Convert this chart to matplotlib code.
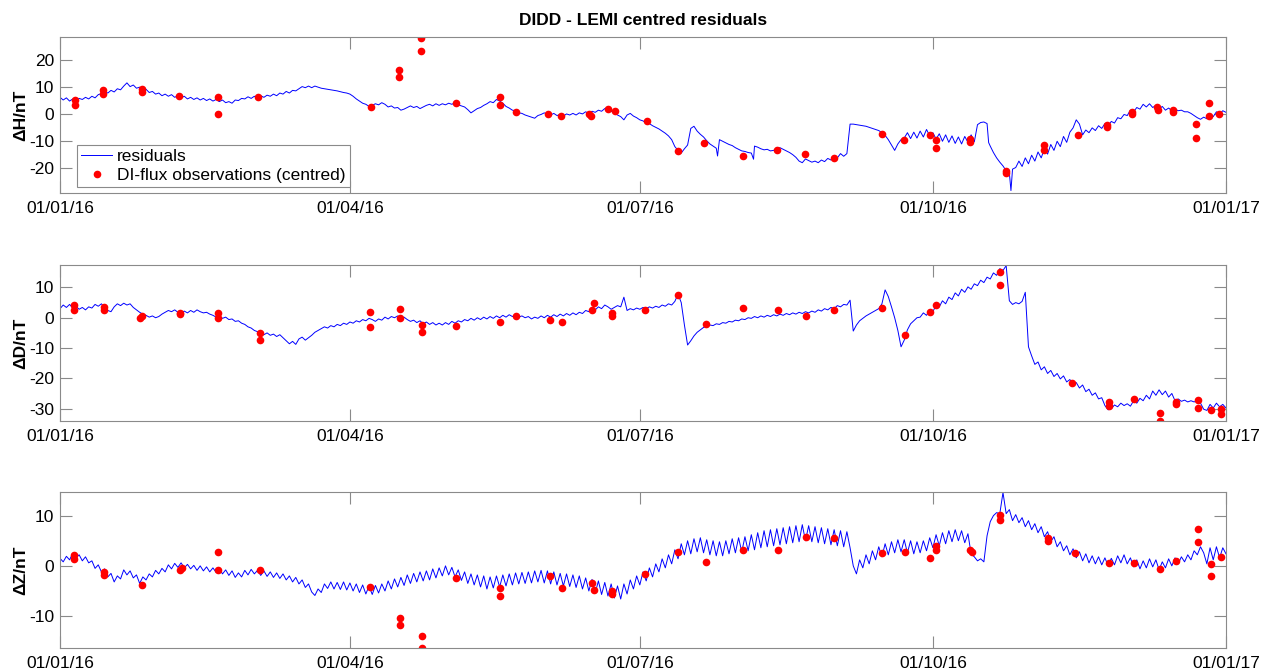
import numpy as np
import matplotlib
matplotlib.use("Agg")
import matplotlib.pyplot as plt
import matplotlib.dates as mdates
from datetime import datetime

plt.rcParams['font.family'] = ['Liberation Sans', 'DejaVu Sans']
plt.rcParams['axes.unicode_minus'] = False

# daily residuals in nT, one value per day from 01/01/16 to 01/01/17
h_val = [6.2, 5.2, 6.0, 4.8, 5.6, 5.0, 5.8, 5.4, 6.2, 5.6,
         6.6, 6.0, 7.2, 7.6, 8.4, 7.8, 8.8, 8.2, 9.4, 9.0,
         10.4, 11.6, 10.2, 10.8, 9.6, 10.0, 8.8, 9.2, 8.0, 8.4,
         7.4, 7.8, 6.8, 7.4, 6.6, 7.2, 6.2, 6.8, 6.0, 6.6,
         5.6, 6.2, 5.4, 6.0, 5.2, 5.8, 5.0, 5.6, 4.8, 5.4,
         4.6, 5.2, 4.2, 4.6, 4.0, 5.2, 5.0, 5.8, 5.6, 6.4,
         5.8, 6.6, 6.0, 6.8, 6.2, 7.0, 6.6, 7.4, 6.8, 7.8,
         7.4, 8.4, 7.8, 8.8, 8.6, 9.4, 10.2, 9.8, 10.4, 9.8,
         10.4, 10.0, 9.6, 9.4, 9.2, 9.0, 8.8, 8.6, 8.3, 8.0,
         7.8, 7.4, 6.6, 5.6, 4.8, 4.0, 3.6, 2.8, 3.2, 3.8,
         3.4, 4.2, 3.6, 2.6, 3.0, 2.2, 2.4, 1.4, 1.8, 2.4,
         3.0, 2.4, 2.8, 2.0, 2.6, 3.2, 3.6, 3.0, 3.8, 3.2,
         3.8, 3.4, 4.0, 3.6, 4.2, 3.4, 3.0, 2.6, 1.6, 0.4,
         1.2, 2.0, 2.4, 3.2, 3.8, 4.6, 4.2, 5.4, 4.8, 4.0,
         2.8, 2.2, 1.4, 1.2, 0.4, 0.2, -0.4, -0.8, -1.2, -1.6,
         -0.6, -0.2, 0.4, 0.0, -0.4, 0.2, -0.6, -0.2, -0.8, 0.0,
         -0.4, 0.2, -0.4, 0.4, 0.0, 0.8, 0.2, 1.0, 0.6, 1.4,
         1.0, 2.0, 2.4, 1.0, 0.4, -0.4, -1.0, -2.2, -0.4, 0.2,
         -0.8, -1.4, -2.2, -2.6, -3.4, -3.6, -4.4, -5.0, -5.6, -6.4,
         -7.2, -8.2, -9.6, -12.2, -13.6, -14.6, -13.0, -11.6, -5.4, -4.6,
         -6.4, -7.6, -8.6, -10.0, -11.2, -12.0, -12.8, -9.6, -10.2, -10.8,
         -11.4, -11.8, -12.6, -13.2, -13.8, -14.0, -14.4, -14.6, -12.0, -12.4,
         -13.0, -13.4, -13.2, -13.8, -13.6, -13.0, -12.6, -13.2, -13.8, -14.4,
         -15.2, -16.2, -17.6, -18.2, -16.8, -17.4, -18.0, -17.6, -18.2, -17.2,
         -17.8, -16.6, -17.2, -15.6, -16.4, -14.8, -15.8, -14.8, -3.8, -3.8,
         -4.0, -4.2, -4.4, -4.6, -5.0, -5.4, -5.8, -6.2, -7.0, -8.0,
         -9.6, -11.6, -13.6, -11.2, -9.6, -9.0, -7.0, -9.2, -6.8, -9.0,
         -6.4, -8.6, -5.8, -8.2, -7.0, -9.4, -7.4, -10.2, -7.8, -10.6,
         -8.2, -11.0, -8.6, -11.2, -8.4, -10.6, -7.8, -10.4, -4.0, -3.2,
         -3.0, -3.6, -12.0, -14.4, -16.4, -18.0, -19.4, -21.2, -22.0, -20.6,
         -20.0, -17.6, -19.6, -16.4, -18.6, -15.4, -17.6, -14.2, -16.4, -13.0,
         -15.0, -11.4, -13.6, -10.2, -12.2, -8.4, -10.6, -6.8, -5.2, -2.2,
         -3.8, -7.8, -6.0, -7.0, -5.2, -6.2, -4.4, -5.4, -3.6, -4.4,
         -2.8, -3.4, -1.4, -1.8, -0.2, -0.6, 1.4, 0.8, 2.4, 1.8,
         3.6, 2.6, 3.8, 2.4, 3.2, 1.8, 2.8, 1.4, 2.2, 1.2,
         1.8, 1.2, 1.4, 0.8, 0.8, 0.2, -0.6, -1.4, -2.0, -1.2,
         -1.8, -0.2, -1.0, 0.8, 0.0, 1.2, 0.6]
# short spikes between daily samples
h_spike_day = [206.4, 217.7, 291.5, 298.5]
h_spike_val = [-15.7, -16.9, -10.7, -28.6]

d_val = [3.0, 4.2, 3.4, 4.4, 3.2, 3.8, 2.8, 3.4, 2.6, 3.6,
         3.2, 4.4, 3.8, 4.6, 3.4, 2.4, 2.0, 3.6, 4.6, 4.0,
         4.8, 4.2, 4.6, 3.4, 2.6, 1.8, 1.2, 0.8, 0.2, 0.6,
         0.0, 0.4, 1.2, 1.8, 2.4, 2.0, 2.6, 1.8, 1.4, 2.2,
         1.6, 2.4, 1.8, 2.6, 2.0, 1.6, 1.8, 1.2, 0.8, 0.2,
         0.6, -0.2, 0.2, -0.6, -0.4, -1.2, -1.0, -1.8, -2.2, -3.0,
         -3.4, -4.2, -4.6, -5.2, -5.6, -5.0, -5.8, -5.4, -6.2, -5.6,
         -6.6, -7.6, -8.6, -7.8, -8.8, -7.0, -6.4, -7.4, -6.6, -5.8,
         -4.8, -4.2, -3.6, -3.0, -3.4, -2.6, -3.0, -2.2, -2.6, -1.8,
         -2.2, -1.4, -1.8, -1.0, -1.4, -0.6, -1.0, -0.2, -0.6, -1.2,
         -0.4, -0.8, 0.2, -0.4, 0.4, 0.0, 0.6, -0.2, 0.2, -0.6,
         -1.2, -0.8, -1.6, -1.0, -2.0, -1.4, -2.2, -1.6, -2.4, -1.8,
         -2.4, -1.6, -2.2, -1.2, -1.8, -1.0, -1.4, -0.6, -1.0, -0.2,
         -0.8, 0.0, -0.6, 0.2, -0.4, 0.4, -0.2, 0.6, 0.0, 0.8,
         0.2, 1.0, 0.4, 0.8, 0.2, 0.6, 0.0, 0.4, -0.4, 0.2,
         -0.2, 0.6, 0.0, 0.8, 0.2, 1.0, 0.4, 1.2, 0.6, 1.4,
         0.8, 1.6, 1.0, 1.8, 1.4, 2.4, 2.0, 3.0, 2.6, 3.6,
         3.0, 4.2, 3.6, 2.8, 3.4, 4.0, 3.6, 6.8, 2.4, 3.0,
         2.6, 3.2, 2.8, 3.4, 3.0, 3.6, 3.2, 3.8, 3.4, 4.2,
         3.8, 4.6, 4.2, 5.4, 7.8, 5.0, -2.4, -9.0, -7.6, -6.0,
         -4.8, -4.0, -3.2, -2.8, -2.4, -2.6, -2.0, -2.2, -1.6, -1.8,
         -1.2, -1.4, -0.8, -1.0, -0.4, -0.6, 0.0, -0.2, 0.4, 0.0,
         0.6, 0.2, 0.8, 0.4, 1.0, 0.6, 1.2, 0.8, 1.4, 1.0,
         1.6, 1.2, 1.8, 1.4, 2.0, 1.6, 2.2, 1.8, 2.6, 2.2,
         3.0, 2.6, 3.4, 3.0, 4.0, 3.6, 4.4, 4.2, 5.8, -4.4,
         -2.4, -1.0, -0.2, 0.6, 1.2, 1.8, 2.4, 3.0, 4.6, 9.2,
         7.0, 3.6, 0.0, -4.2, -9.6, -7.4, -4.0, -2.0, -1.0, 0.0,
         0.2, 1.6, 0.8, 2.6, 2.0, 4.2, 3.6, 5.6, 4.6, 6.8,
         6.0, 8.2, 7.2, 9.4, 8.4, 10.2, 9.4, 11.2, 10.6, 12.4,
         11.6, 13.4, 12.8, 14.8, 14.0, 16.2, 15.6, 17.2, 5.6, 4.4,
         5.0, 4.6, 5.4, 8.4, -9.6, -12.6, -15.4, -14.6, -17.2, -16.2,
         -18.4, -17.4, -19.4, -18.4, -20.2, -19.2, -21.2, -20.4, -22.4, -21.4,
         -23.2, -22.2, -24.4, -23.6, -25.6, -24.8, -26.8, -26.4, -29.0, -30.4,
         -30.0, -28.8, -29.4, -28.2, -29.0, -28.4, -29.2, -27.4, -28.2, -26.6,
         -27.4, -25.6, -26.8, -24.2, -25.6, -23.8, -25.4, -24.2, -26.2, -25.0,
         -27.4, -26.8, -27.6, -27.2, -27.8, -27.4, -27.8, -27.4, -28.2, -30.2,
         -30.6, -28.6, -29.8, -28.2, -29.4, -28.6, -29.8]

z_val = [1.5, 0.8, 1.9, 1.2, 2.5, 1.6, 2.2, 1.0, 1.8, 0.6,
         1.0, -0.5, 0.2, -1.2, -0.6, -2.2, -1.5, -3.2, -2.0, -2.6,
         -0.8, -1.8, -1.0, -2.4, -1.8, -3.5, -2.2, -2.8, -1.6, -2.2,
         -0.9, -1.6, -0.5, -1.2, 0.2, -0.6, 0.5, -0.3, 0.6, -0.4,
         0.3, -0.6, 0.1, -0.9, 0.0, -1.0, -0.2, -1.2, -0.4, -1.3,
         -0.5, -1.6, -0.8, -1.9, -1.0, -2.3, -1.4, -2.2, -0.9, -1.8,
         -0.7, -1.6, -0.9, -1.9, -1.0, -2.1, -1.2, -2.3, -1.4, -2.5,
         -1.6, -2.8, -2.0, -3.2, -2.3, -3.6, -2.8, -4.3, -3.6, -5.2,
         -5.9, -4.6, -5.3, -3.6, -4.5, -3.2, -4.6, -3.3, -4.7, -3.2,
         -4.8, -3.4, -5.0, -3.6, -5.3, -3.8, -5.6, -4.0, -5.7, -3.9,
         -5.4, -3.6, -5.0, -3.0, -4.6, -2.6, -4.2, -2.3, -3.9, -1.8,
         -3.5, -1.5, -3.2, -1.2, -3.0, -1.0, -2.8, -0.6, -2.4, -0.4,
         -2.0, 0.0, -1.8, -0.3, -2.2, -0.8, -2.9, -1.2, -3.5, -1.6,
         -3.8, -1.8, -4.2, -2.0, -4.6, -2.2, -4.4, -2.0, -4.2, -1.8,
         -4.0, -1.6, -3.8, -1.4, -3.6, -1.3, -3.5, -1.2, -3.4, -1.0,
         -3.2, -0.9, -3.4, -1.0, -3.6, -1.2, -3.8, -1.5, -4.0, -1.6,
         -4.1, -1.8, -4.3, -2.0, -4.6, -2.4, -5.0, -2.7, -5.4, -3.0,
         -5.7, -3.3, -6.0, -3.6, -6.4, -4.0, -6.6, -3.6, -5.6, -2.8,
         -4.6, -2.0, -3.8, -1.2, -3.0, -0.4, -2.2, 0.4, -1.2, 1.4,
         -0.4, 2.2, 0.4, 3.2, 1.4, 4.4, 2.2, 5.0, 2.4, 5.4,
         2.8, 5.6, 2.6, 5.2, 2.2, 5.0, 2.0, 4.8, 2.0, 5.0,
         2.4, 5.4, 2.6, 5.6, 2.8, 5.8, 3.0, 6.2, 3.2, 6.6,
         3.6, 7.0, 3.8, 7.2, 4.0, 7.4, 4.2, 7.6, 4.4, 7.8,
         4.6, 8.0, 4.8, 8.2, 5.0, 8.0, 4.8, 7.8, 4.6, 7.6,
         4.4, 7.4, 4.2, 7.2, 4.0, 7.0, 3.8, 6.8, 3.6, 0.0,
         -1.6, 1.2, -0.4, 2.2, 0.4, 3.0, 1.2, 3.8, 1.8, 4.4,
         2.2, 4.8, 2.6, 5.2, 2.8, 5.2, 2.6, 5.0, 2.4, 4.8,
         2.6, 5.0, 3.0, 5.6, 3.6, 6.2, 4.0, 6.6, 4.4, 7.0,
         4.8, 7.2, 5.0, 7.0, 4.6, 6.4, 2.4, 1.8, 1.0, 1.4,
         0.8, 6.0, 8.8, 10.0, 10.6, 10.4, 14.6, 10.4, 11.2, 9.0,
         10.2, 8.6, 9.6, 7.8, 9.0, 7.2, 8.4, 6.6, 7.8, 5.8,
         6.8, 4.8, 5.8, 3.8, 4.8, 3.0, 4.0, 2.2, 3.4, 1.6,
         2.8, 1.0, 2.4, 0.6, 2.0, 0.4, 1.8, 0.2, 1.6, 0.0,
         1.5, 0.2, 2.0, 0.6, 2.2, 0.4, 1.6, -0.2, 1.2, -0.6,
         1.0, -0.4, 1.4, -0.2, 1.2, -0.8, 0.8, -0.4, 1.4, 0.0,
         1.6, 0.4, 1.8, 0.8, 2.2, 1.2, 3.0, 2.2, 3.8, 2.6,
         0.4, 3.6, 1.2, 3.8, 1.6, 3.6, 2.4]

# DI-flux observations (centred), day of year and value in nT
h_obs_day = [4.7, 4.7, 13.5, 13.5, 25.7, 25.7, 37.5, 49.5, 49.5, 62.2, 97.5, 106.4, 106.4, 113.3,
             113.3, 124.3, 138.1, 138.1, 143.1, 153.1, 157.3, 166.1, 166.7, 172, 174.1, 184.1,
             194.1, 202.2, 214.4, 225.2, 233.9, 243, 257.9, 265, 273, 275, 275, 285.8, 285.8,
             296.8, 297.1, 308.8, 308.8, 319.7, 328.7, 328.7, 336.5, 336.5, 344.5, 344.8, 349.5,
             349.5, 356.7, 356.7, 360.6, 360.6, 363.9]
h_obs_val = [5.1, 3.5, 8.8, 7.5, 9.3, 8.3, 6.8, 6.5, 0.1, 6.5, 2.5, 16.4, 13.7, 28.4,
             23.6, 4.1, 6.3, 3.2, 0.9, -0.2, -0.9, 0, -0.6, 2, 1, -2.8,
             -13.7, -10.7, -15.7, -13.6, -14.8, -16.3, -7.5, -9.6, -7.8, -9.8, -12.6, -9.3, -10.5,
             -21.2, -22.1, -11.6, -13.6, -8, -4, -4.8, 0.9, 0, 2.6, 1.4, 1.6,
             0.7, -3.8, -9, 4.1, -0.9, -0.2]

d_obs_day = [4.4, 4.4, 13.8, 13.8, 25.7, 25.1, 37.7, 37.7, 49.6, 49.6, 62.8, 62.8, 97.3, 97.3,
             106.7, 106.7, 113.6, 113.6, 124.3, 138.1, 143.1, 153.8, 157.6, 167, 167.6, 173.3,
             173.3, 183.6, 194, 202.8, 214.4, 225.4, 234.2, 242.9, 258, 265.2, 273.1, 275, 295,
             295, 317.6, 329.2, 329.2, 337.1, 345.3, 345.3, 350.3, 350.3, 357.2, 357.2, 361.3,
             364.4, 364.4]
d_obs_val = [4.2, 2.5, 3.5, 2.5, 0.6, -0.1, 1.6, 1.2, 1.6, -0.1, -5, -7.4, 1.9, -3.1,
             2.9, -0.1, -2.4, -4.7, -2.7, -1.4, 0.6, -0.8, -1.4, 2.5, 4.9, 1.6,
             0.6, 2.5, 7.5, -2.1, 3.2, 2.5, 0.6, 2.5, 3.2, -5.7, 1.9, 4.2, 15.1,
             10.8, -21.6, -27.7, -29.1, -26.8, -31.4, -34, -27.7, -28.5, -27.1, -29.7, -30.4,
             -30.1, -31.8]

z_obs_day = [4.4, 4.4, 13.8, 13.8, 25.7, 38.3, 37.7, 49.6, 49.6, 62.8, 97.3, 106.7, 106.7, 113.6,
             113.6, 124.3, 138.1, 138.1, 153.8, 157.6, 167, 167.6, 173.3, 173.3, 183.6, 194,
             202.8, 214.4, 225.4, 234.2, 242.9, 258, 265.2, 273.1, 275, 275, 285.6, 286.2, 295,
             295, 310.1, 310.1, 318.6, 329.2, 337.1, 345.3, 350.3, 357.2, 357.2, 361.3, 361.3,
             364.4]
z_obs_val = [2.2, 1.4, -1.2, -1.8, -3.8, -0.4, -0.8, 2.8, -0.8, -0.8, -4.2, -10.4, -11.8, -14,
             -16.4, -2.4, -4.4, -6, -2, -4.4, -3.4, -4.8, -5, -5.6, -1.6, 2.8,
             0.8, 3.2, 3.2, 5.8, 5.6, 2.6, 2.8, 1.6, 4, 3.2, 3.2, 2.8, 10.2,
             9.2, 5.6, 5, 2.6, 0.5, 0.5, -0.7, 0.9, 7.4, 4.7, 0.3, -2.1,
             1.7]

# merge the H spikes into the daily series
h_day = np.concatenate([np.arange(len(h_val)), h_spike_day])
h_all = np.concatenate([h_val, h_spike_val])
order = np.argsort(h_day)
h_day, h_all = h_day[order], h_all[order]

panels = [
    ("\u0394H/nT", h_day, h_all, h_obs_day, h_obs_val, (-29.5, 28.6), [-20, -10, 0, 10, 20]),
    ("\u0394D/nT", np.arange(len(d_val)), d_val, d_obs_day, d_obs_val, (-34, 17.4), [-30, -20, -10, 0, 10]),
    ("\u0394Z/nT", np.arange(len(z_val)), z_val, z_obs_day, z_obs_val, (-16.3, 14.7), [-10, 0, 10]),
]

t0 = mdates.date2num(datetime(2016, 1, 1))
xticks = [datetime(2016, 1, 1), datetime(2016, 4, 1), datetime(2016, 7, 1),
          datetime(2016, 10, 1), datetime(2017, 1, 1)]

fig = plt.figure(figsize=(12.69, 6.71), dpi=100)
bottoms = [0.7124, 0.373, 0.0347]
grey = '#8a8a8a'
fs = 12.5

for i, (lab, dd, vv, od, ov, yl, yt) in enumerate(panels):
    ax = fig.add_axes([0.0473, bottoms[i], 0.9188, 0.232])
    ax.plot(t0 + np.asarray(dd), vv, color='blue', lw=0.7, label='residuals')
    ax.plot(t0 + np.asarray(od), ov, 'o', color='red', ms=5.5, mec='none',
            label='DI-flux observations (centred)')
    ax.set_xlim(t0, t0 + 366)
    ax.set_ylim(*yl)
    ax.set_yticks(yt)
    ax.set_xticks(mdates.date2num(xticks))
    ax.xaxis.set_major_formatter(mdates.DateFormatter('%d/%m/%y'))
    ax.tick_params(direction='in', length=8.4, width=0.8, colors=grey, labelcolor='black',
                   labelsize=fs, top=True, right=True)
    ax.tick_params(axis='x', pad=6)
    ax.tick_params(axis='y', pad=4)
    for s in ax.spines.values():
        s.set_color(grey)
        s.set_linewidth(0.8)
    ax.set_ylabel(lab, fontsize=fs, fontweight='bold', labelpad=1)
    if i == 0:
        ax.set_title('DIDD - LEMI centred residuals', fontsize=fs, fontweight='bold', pad=9)
        leg = ax.legend(loc='lower left', bbox_to_anchor=(0.0146, 0.038), borderaxespad=0,
                        fontsize=fs, fancybox=False, handlelength=1.75, handletextpad=0.3,
                        framealpha=1, borderpad=0.25, labelspacing=0.2)
        leg.get_frame().set_edgecolor(grey)
        leg.get_frame().set_linewidth(0.8)

fig.savefig('out.png', dpi=100)
